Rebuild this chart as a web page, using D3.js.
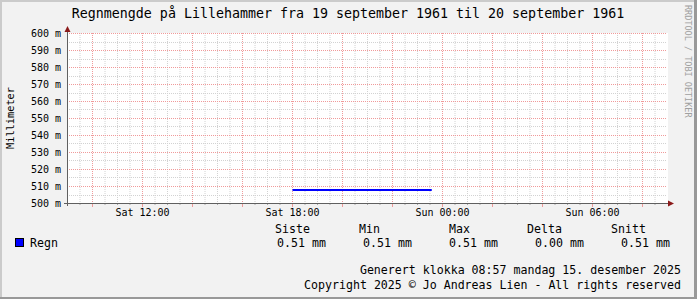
<!DOCTYPE html>
<html>
<head>
<meta charset="utf-8">
<script src="https://cdn.jsdelivr.net/npm/d3@7"></script>
<style>
  body { margin: 0; background: #f2f2f2; }
  text { font-family: "DejaVu Sans Mono", monospace; }
</style>
</head>
<body>
<div id="chart"></div>
<script>
// Rain series (hours counted from Sat 00:00, value in mm)
var rainHours = [18, 19, 20, 21, 22, 23, 23.57];
var rainValues = [0.508, 0.508, 0.508, 0.508, 0.508, 0.508, 0.508];

// x axis labels (hour -> text)
var xLabelHours = [12, 18, 24, 30];
var xLabels = ["Sat 12:00", "Sat 18:00", "Sun 00:00", "Sun 06:00"];

// y axis labels
var yLabelValues = [0.50, 0.51, 0.52, 0.53, 0.54, 0.55, 0.56, 0.57, 0.58, 0.59, 0.60];
var yLabels = ["500 m", "510 m", "520 m", "530 m", "540 m", "550 m", "560 m", "570 m", "580 m", "590 m", "600 m"];

// legend table
var legendHeaders = ["Siste", "Min", "Max", "Delta", "Snitt"];
var legendValues = ["0.51 mm", "0.51 mm", "0.51 mm", "0.00 mm", "0.51 mm"];

var title = "Regnmengde på Lillehammer fra 19 september 1961 til 20 september 1961";
var footer1 = "Generert klokka 08:57 mandag 15. desember 2025";
var footer2 = "Copyright 2025 \u00a9 Jo Andreas Lien - All rights reserved";

var width = 697, height = 299;
var plotLeft = 67, plotRight = 667, plotTop = 33, plotBottom = 203;

var svg = d3.select("#chart").append("svg")
  .attr("width", width)
  .attr("height", height)
  .style("display", "block");

// background + 3d border
svg.append("rect").attr("width", width).attr("height", height).attr("fill", "#f2f2f2");
svg.append("rect").attr("x", 0).attr("y", 0).attr("width", width).attr("height", 2).attr("fill", "#cbcbcb");
svg.append("rect").attr("x", 0).attr("y", 0).attr("width", 2).attr("height", height).attr("fill", "#cbcbcb");
svg.append("rect").attr("x", 0).attr("y", height - 2).attr("width", width).attr("height", 2).attr("fill", "#999999");
svg.append("rect").attr("x", width - 3).attr("y", 0).attr("width", 3).attr("height", height).attr("fill", "#999999");

// scales
var x = d3.scaleLinear().domain([9, 33]).range([plotLeft + 0.5, plotRight + 0.5]);
var y = d3.scaleLinear().domain([0.5, 0.6]).range([plotBottom + 0.5, plotTop + 0.5]);

// canvas
svg.append("rect")
  .attr("x", plotLeft).attr("y", plotTop)
  .attr("width", plotRight - plotLeft + 1).attr("height", plotBottom - plotTop + 1)
  .attr("fill", "#ffffff");

var grid = svg.append("g");
var minorColor = "#d2d2d2", majorColor = "#f09a9a";

// minor vertical grid (30 min), major (2 h)
d3.range(9.5, 33, 0.5).forEach(function(h) {
  var major = (h % 2 === 0);
  grid.append("line")
    .attr("x1", x(h)).attr("x2", x(h))
    .attr("y1", plotTop).attr("y2", plotBottom)
    .attr("stroke", major ? majorColor : minorColor)
    .attr("stroke-dasharray", "1,1");
  // ticks under the axis
  svg.append("line")
    .attr("x1", x(h)).attr("x2", x(h))
    .attr("y1", plotBottom + 1).attr("y2", plotBottom + (major ? 4 : 2))
    .attr("stroke", major ? majorColor : "#aaaaaa");
});

// horizontal grid
d3.range(1, 21).forEach(function(i) {
  var v = 0.5 + i * 0.005;
  var major = (i % 2 === 0);
  var yy = Math.round(y(v) - 0.5) + 0.5;
  grid.append("line")
    .attr("x1", plotLeft).attr("x2", plotRight)
    .attr("y1", yy).attr("y2", yy)
    .attr("stroke", major ? majorColor : minorColor)
    .attr("stroke-dasharray", "1,1");
});

// y labels
svg.append("g").selectAll("text")
  .data(yLabelValues)
  .enter().append("text")
  .attr("x", 61)
  .attr("y", function(d) { return y(d); })
  .attr("dy", "0.35em")
  .attr("text-anchor", "end")
  .style("font-size", "10px")
  .text(function(d, i) { return yLabels[i]; });

// x labels
svg.append("g").selectAll("text")
  .data(xLabelHours)
  .enter().append("text")
  .attr("x", function(d) { return x(d); })
  .attr("y", 216)
  .attr("text-anchor", "middle")
  .style("font-size", "10px")
  .text(function(d, i) { return xLabels[i]; });

// series
var line = d3.line()
  .x(function(d, i) { return x(rainHours[i]); })
  .y(function(d) { return y(d); });

svg.append("path")
  .datum(rainValues)
  .attr("d", line)
  .attr("fill", "none")
  .attr("stroke", "#0000ff")
  .attr("stroke-width", 2);

// axes
svg.append("line")
  .attr("x1", plotLeft - 3).attr("x2", plotRight + 3)
  .attr("y1", plotBottom + 0.5).attr("y2", plotBottom + 0.5)
  .attr("stroke", "#606060");
svg.append("line")
  .attr("x1", plotLeft + 0.5).attr("x2", plotLeft + 0.5)
  .attr("y1", plotBottom + 3).attr("y2", plotTop - 2)
  .attr("stroke", "#606060");
svg.append("path")
  .attr("d", "M" + (plotLeft + 0.5) + "," + (plotTop - 7) + " L" + (plotLeft + 3.5) + "," + (plotTop - 1) + " L" + (plotLeft - 2.5) + "," + (plotTop - 1) + " Z")
  .attr("fill", "#8b1a1a");
svg.append("path")
  .attr("d", "M" + (plotRight + 7) + "," + (plotBottom + 0.5) + " L" + (plotRight + 1) + "," + (plotBottom - 2.5) + " L" + (plotRight + 1) + "," + (plotBottom + 3.5) + " Z")
  .attr("fill", "#8b1a1a");

// title
svg.append("text")
  .attr("x", 348)
  .attr("y", 18)
  .attr("text-anchor", "middle")
  .style("font-size", "13.3px")
  .text(title);

// y axis title
svg.append("text")
  .attr("transform", "translate(14," + ((plotTop + plotBottom) / 2) + ") rotate(-90)")
  .attr("text-anchor", "middle")
  .style("font-size", "10.3px")
  .text("Millimeter");

// watermark
svg.append("text")
  .attr("transform", "translate(685,5) rotate(90)")
  .attr("text-anchor", "start")
  .style("font-size", "8.5px")
  .attr("fill", "#a0a0a0")
  .text("RRDTOOL / TOBI OETIKER");

// legend
svg.append("rect")
  .attr("x", 15.5).attr("y", 238.5)
  .attr("width", 8).attr("height", 8)
  .attr("fill", "#0000ff")
  .attr("stroke", "#000000");
svg.append("text")
  .attr("x", 30).attr("y", 247)
  .style("font-size", "11.6px")
  .text("Regn");

var headerX = [275, 359, 449, 527, 611];
var valueX = [277, 363, 449, 535, 621];

svg.append("g").selectAll("text")
  .data(legendHeaders)
  .enter().append("text")
  .attr("x", function(d, i) { return headerX[i]; })
  .attr("y", 233)
  .style("font-size", "11.6px")
  .text(function(d) { return d; });

svg.append("g").selectAll("text")
  .data(legendValues)
  .enter().append("text")
  .attr("x", function(d, i) { return valueX[i]; })
  .attr("y", 247)
  .style("font-size", "11.6px")
  .text(function(d) { return d; });

// footer
svg.append("text")
  .attr("x", 681).attr("y", 274)
  .attr("text-anchor", "end")
  .style("font-size", "11.6px")
  .text(footer1);
svg.append("text")
  .attr("x", 681).attr("y", 289)
  .attr("text-anchor", "end")
  .style("font-size", "11.6px")
  .text(footer2);
</script>
</body>
</html>
